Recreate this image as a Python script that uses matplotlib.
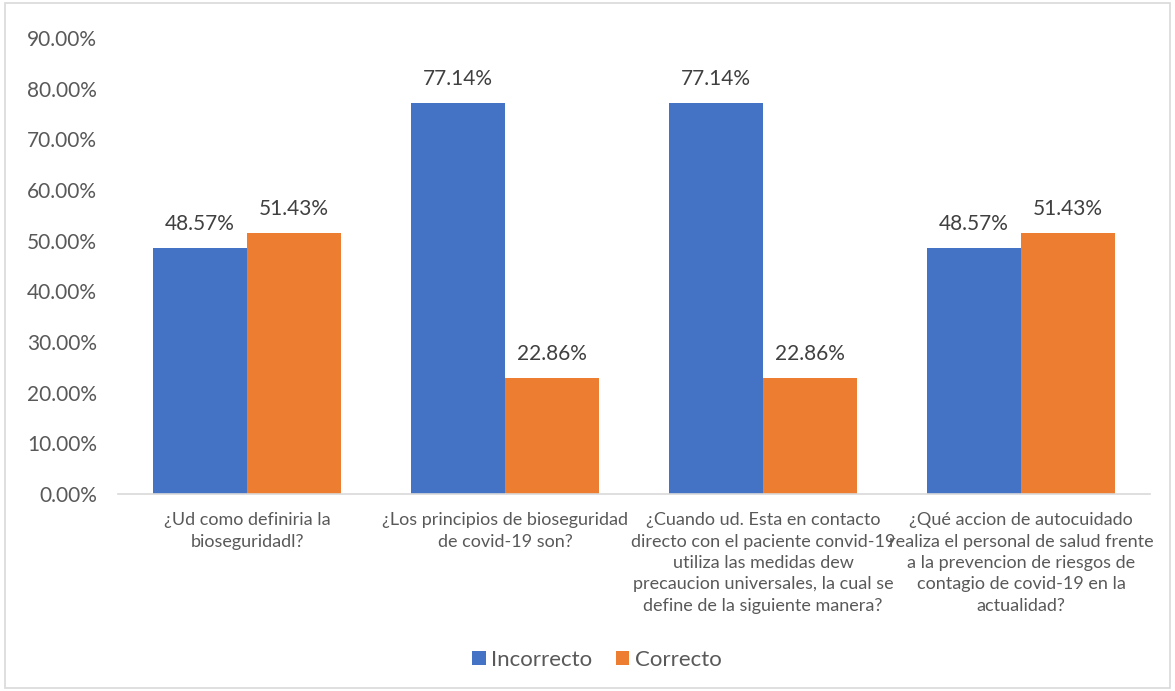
import matplotlib.pyplot as plt
import numpy as np

plt.rcParams['font.family'] = ['Lato', 'DejaVu Sans']

categories = [
    "¿Ud como definiria la\nbioseguridadl?",
    "¿Los principios de bioseguridad\nde covid-19 son?",
    "¿Cuando ud. Esta en contacto\ndirecto con el paciente convid-19\nutiliza las medidas dew\nprecaucion universales, la cual se\ndefine de la siguiente manera?",
    "¿Qué accion de autocuidado\nrealiza el personal de salud frente\na la prevencion de riesgos de\ncontagio de covid-19 en la\nactualidad?",
]
incorrecto = [48.57, 77.14, 77.14, 48.57]
correcto = [51.43, 22.86, 22.86, 51.43]
series_names = ["Incorrecto", "Correcto"]
yticks = [0, 10, 20, 30, 40, 50, 60, 70, 80, 90]

text_color = '#595959'
label_color = '#404040'
colors = ['#4472C4', '#ED7D31']

fig = plt.figure(figsize=(11.75, 6.91), dpi=100)
ax = fig.add_axes([118 / 1175, 1 - 494 / 691, 1032 / 1175, 456 / 691])

x = np.arange(len(categories))
w = 94 / 258
for vals, off, col, name in [(incorrecto, -w / 2, colors[0], series_names[0]),
                             (correcto, w / 2, colors[1], series_names[1])]:
    bars = ax.bar(x + off, vals, width=w, color=col, label=name)
    for b, v in zip(bars, vals):
        ax.text(b.get_x() + b.get_width() / 2, v + 2.8, f"{v:.2f}%",
                ha='center', va='bottom', fontsize=15, color=label_color)

ax.set_xlim(-0.5, len(categories) - 0.5)
ax.set_ylim(0, 90)
ax.set_yticks(yticks)
ax.set_yticklabels([f"{t:.2f}%" for t in yticks], fontsize=15, color=text_color)
ax.set_xticks(x)
ax.set_xticklabels(categories, fontsize=13, color=text_color, linespacing=1.42)
ax.tick_params(axis='both', length=0)
ax.tick_params(axis='y', pad=15)
ax.tick_params(axis='x', pad=13)
for s in ['top', 'right', 'left']:
    ax.spines[s].set_visible(False)
ax.spines['bottom'].set_color('#D9D9D9')
ax.spines['bottom'].set_linewidth(1.2)

leg = fig.legend(loc='center', bbox_to_anchor=(0.508, 1 - 660 / 691), ncol=2, frameon=False,
                 fontsize=16, handlelength=0.6, handleheight=0.6, columnspacing=1.05,
                 handletextpad=0.25)
for t in leg.get_texts():
    t.set_color(text_color)

fig.patches.append(plt.Rectangle((0.004, 0.004), 0.992, 0.992, transform=fig.transFigure,
                                 fill=False, edgecolor='#D9D9D9', linewidth=1.2))

fig.savefig('out.png', dpi=100, facecolor='white')
